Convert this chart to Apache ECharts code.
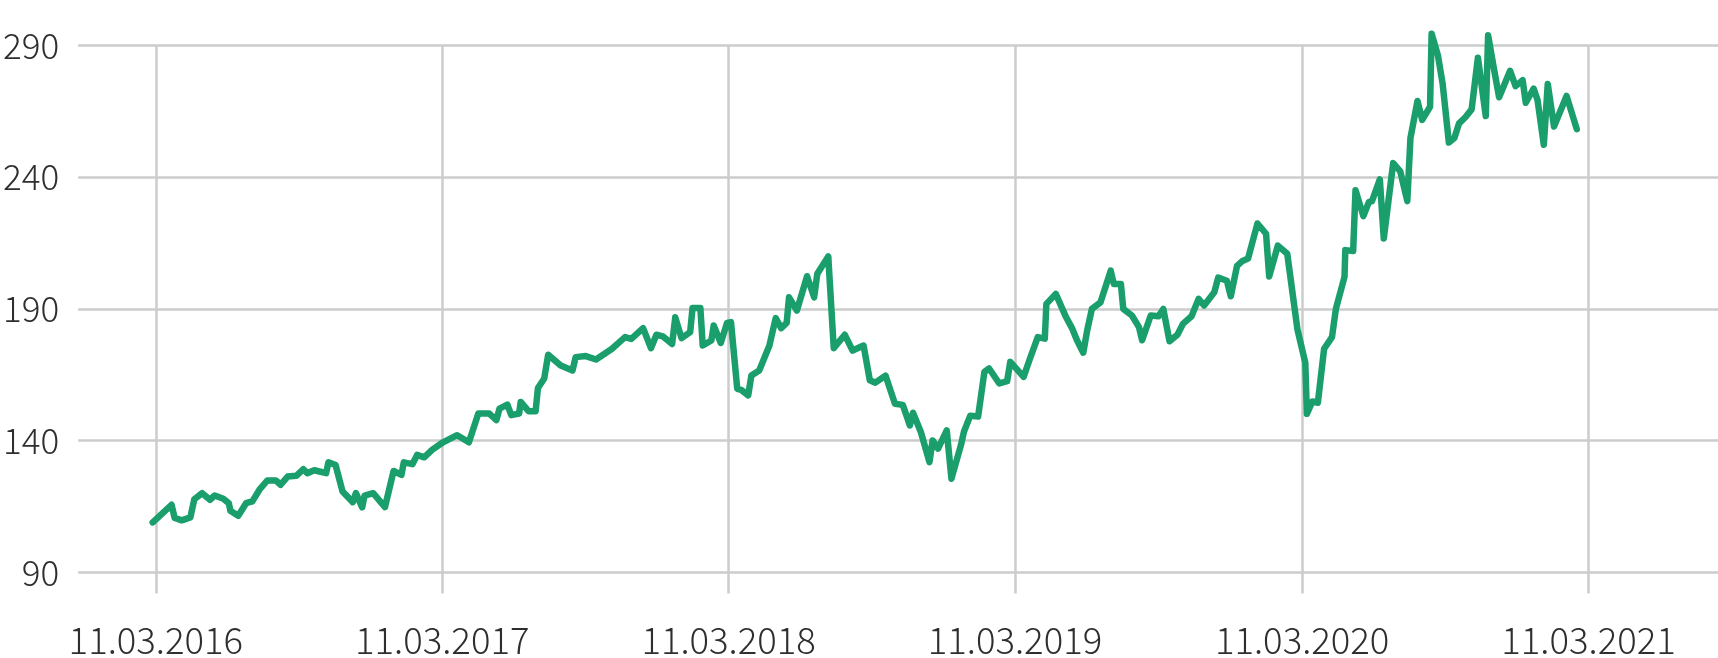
<!DOCTYPE html>
<html>
<head>
<meta charset="utf-8">
<script src="https://cdn.jsdelivr.net/npm/echarts@6/dist/echarts.min.js"></script>
<style>
html,body{margin:0;padding:0;background:#fff;}
#chart{width:1718px;height:658px;}
</style>
</head>
<body>
<div id="chart"></div>
<script>
// days since 11.03.2016
const dayOffsets = [
-4,20,24,33,44,49,59,69,75,86,93,95,105,115,123,132,142,153,159,168,179,188,193,202,217,220,229,238,251,255,263,266,277,292,303,313,316,327,333,342,352,366,384,399,411,425,434,438,448,453,463,465,475,484,487,495,500,
516,531,535,548,561,581,598,606,621,631,638,646,658,662,670,681,684,694,697,708,711,720,728,733,741,746,755,759,769,782,790,797,804,807,817,830,839,843,857,864,878,888,902,910,917,930,942,952,961,965,975,986,990,997,1008,1014,
1026,1030,1038,1048,1056,1062,1075,1085,1089,1106,1114,1124,1133,1135,1147,1160,1168,1174,1182,1187,1193,1204,1217,1221,1230,1233,1244,1253,1257,1268,1278,1284,1292,1302,1309,1320,1329,1336,1349,1354,1365,1370,1378,1385,1392,1404,1415,1419,1430,1442,1455,1465,1467,1474,1481,1489,1499,1504,1515,1516,1526,1529,1539,1546,1550,1560,1565,1577,1586,1595,1599,1608,1614,1624,1626,1634,1640,1648,1655,1661,1669,1677,1685,1695,1698,1705,1712,1726,1733,1742,1746,1756,1761,1769,1774,1782,1798,1811
];
const values = [
109.0,115.7,110.7,109.8,110.9,117.8,120.1,117.6,119.2,118.0,116.3,113.4,111.5,116.3,117.0,121.4,124.9,124.9,123.3,126.4,126.7,129.2,127.7,128.8,127.7,131.8,130.8,120.7,116.7,120.1,114.7,119.2,120.1,114.8,128.5,127.0,131.8,131.1,134.6,133.7,136.5,139.4,142.1,139.4,150.3,150.3,147.8,152.2,153.7,149.7,150.3,154.7,151.2,151.2,160.0,163.6,172.6,
168.5,166.6,171.7,172.1,170.8,174.8,179.3,178.6,182.7,175.1,180.2,179.6,176.7,186.8,178.9,181.2,190.3,190.3,176.1,178.0,183.7,177.1,184.7,185.0,159.7,159.3,157.2,164.7,166.6,176.1,186.5,182.7,184.7,194.4,189.4,202.4,194.4,203.3,209.9,175.1,180.2,174.2,176.1,162.9,162.0,164.7,154.0,153.6,145.8,150.6,143.3,131.9,140.1,137.0,143.9,125.6,
138.2,143.5,149.5,149.2,166.1,167.4,161.7,162.6,169.9,164.2,171.1,179.3,178.7,191.9,195.7,186.9,182.5,178.1,173.4,181.8,190.0,192.5,204.5,199.4,199.4,190.0,187.5,183.1,178.1,187.5,187.2,190.0,177.7,180.2,184.3,187.2,193.8,191.3,196.3,201.9,200.7,194.8,206.3,208.2,209.1,222.4,218.5,202.3,214.0,210.9,182.2,169.6,150.2,154.9,154.4,174.9,179.3,190.0,202.2,212.3,212.0,235.0,225.2,230.5,230.9,239.1,216.7,245.3,242.2,230.9,254.8,268.9,261.7,266.7,294.4,286.2,275.5,253.1,254.8,260.4,262.7,265.7,285.3,263.2,293.8,281.8,270.3,280.3,274.5,276.8,268.2,273.6,269.2,252.3,275.3,259.2,270.8,258.2
];
const tickDays = [0, 365, 730, 1095, 1461, 1826];
const tickLabels = ['11.03.2016', '11.03.2017', '11.03.2018', '11.03.2019', '11.03.2020', '11.03.2021'];
const yTicks = [90, 140, 190, 240, 290];

const points = dayOffsets.map((d, i) => [d, values[i]]);
const FONT = '"Noto Sans CJK SC", "Noto Sans", sans-serif';

const chart = echarts.init(document.getElementById('chart'), null, {renderer: 'canvas'});
chart.setOption({
  animation: false,
  backgroundColor: '#ffffff',
  grid: {left: 76.5, right: 0, top: 45.3, bottom: 82.7, containLabel: false},
  xAxis: {
    type: 'value',
    min: -99,
    max: 1991,
    axisLine: {show: false},
    axisTick: {show: true, customValues: tickDays, length: 21, lineStyle: {color: '#cccccc', width: 2.5}},
    splitLine: {show: true, lineStyle: {color: '#cccccc', width: 2.5}},
    axisLabel: {
      customValues: tickDays,
      margin: 49,
      fontSize: 36.5,
      fontWeight: 300,
      fontFamily: FONT,
      color: '#2e2e2e',
      formatter: function (v) { const i = tickDays.indexOf(v); return i >= 0 ? tickLabels[i] : ''; }
    }
  },
  yAxis: {
    type: 'value',
    min: yTicks[0],
    max: yTicks[yTicks.length - 1],
    interval: 50,
    axisLine: {show: false},
    axisTick: {show: false},
    splitLine: {show: true, lineStyle: {color: '#cccccc', width: 2.5}},
    axisLabel: {
      margin: 19,
      fontSize: 35,
      fontWeight: 300,
      fontFamily: FONT,
      color: '#2e2e2e'
    }
  },
  series: [{
    type: 'line',
    data: points,
    showSymbol: false,
    symbol: 'none',
    clip: false,
    lineStyle: {color: '#1a9e6c', width: 6.5, cap: 'round', join: 'round'}
  }]
});
</script>
</body>
</html>
